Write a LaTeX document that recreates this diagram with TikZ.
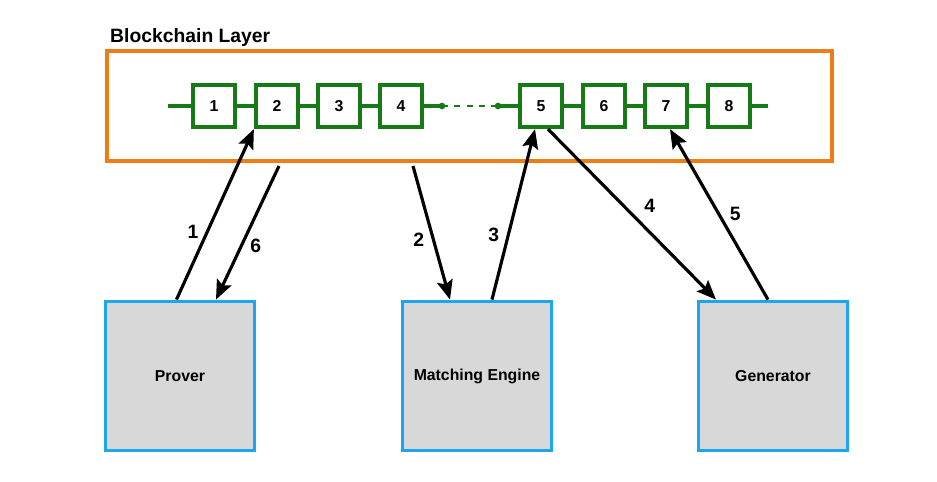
\documentclass[tikz,border=0pt]{standalone}
\usepackage{fontspec}
\setmainfont{Liberation Sans}
\usetikzlibrary{arrows.meta}

\definecolor{layerorange}{RGB}{238,125,22}
\definecolor{blockgreen}{RGB}{22,122,22}
\definecolor{actorblue}{RGB}{28,166,240}
\definecolor{actorgray}{RGB}{216,216,216}

\begin{document}
\begin{tikzpicture}[x=0.02cm, y=-0.02cm, every node/.style={font=\bfseries}]
\useasboundingbox (0,0) rectangle (937,481);

% Blockchain layer frame
\draw[layerorange, line width=2.2pt] (107,51) rectangle (832,161);
\node[anchor=west, font=\bfseries\fontsize{11}{13}\selectfont] (layer) at (104,37) {Blockchain Layer};

\tikzset{block/.style={draw=blockgreen, line width=2.4pt, fill=white, minimum size=0.84cm, inner sep=0pt, font=\bfseries\fontsize{9}{11}\selectfont},
         chain/.style={blockgreen, line width=2.4pt},
         actor/.style={draw=actorblue, fill=actorgray, line width=2.2pt, minimum size=2.98cm, inner sep=0pt, font=\bfseries\fontsize{9}{11}\selectfont},
         flow/.style={line width=1.8pt, -{Stealth[length=11pt, width=9pt, inset=2pt]}},
         step label/.style={font=\bfseries\fontsize{11}{13}\selectfont}}

% Chain lines
\coordinate (chainL) at (168,106);
\coordinate (chainR) at (768,106);
\coordinate (dotL) at (442,106);
\coordinate (dotR) at (498,106);
\draw[chain] (chainL) -- (dotL);
\draw[chain] (dotR) -- (chainR);
\draw[blockgreen, line width=1.3pt, dash pattern=on 3.5pt off 3.5pt] (dotL) -- (dotR);
\fill[blockgreen] (dotL) circle (1.9pt);
\fill[blockgreen] (dotR) circle (1.9pt);

% Blocks
\node[block] (b1) at (214,106) {1};
\node[block] (b2) at (277,106) {2};
\node[block] (b3) at (339,106) {3};
\node[block] (b4) at (401,106) {4};
\node[block] (b5) at (541,106) {5};
\node[block] (b6) at (604,106) {6};
\node[block] (b7) at (666,106) {7};
\node[block] (b8) at (729,106) {8};

% Actors
\node[actor] (prover) at (180,376) {Prover};
\node[actor] (engine) at (477,376) {Matching Engine};
\node[actor] (generator) at (773,376) {Generator};

% Free ends below the frame
\coordinate (out6) at (279,166);
\coordinate (out2) at (413,166);

% Flows
\draw[flow] ([xshift=-2pt]prover.north) -- (b2.south west) node[step label, pos=0.4, left=1pt] {1};
\draw[flow] (out6) -- ([xshift=0.72cm]prover.north) node[step label, pos=0.6, right=1pt] {6};
\draw[flow] (out2) -- ([xshift=-0.54cm]engine.north) node[step label, pos=0.55, left=1pt] {2};
\draw[flow] ([xshift=0.3cm]engine.north) -- ([xshift=-0.12cm]b5.south) node[step label, pos=0.38, left=1pt] {3};
\draw[flow] ([xshift=0.14cm]b5.south) -- ([xshift=-1.14cm]generator.north) node[step label, pos=0.53, above right=0pt] {4};
\draw[flow] ([xshift=-0.1cm]generator.north) -- ([xshift=0.08cm]b7.south) node[step label, pos=0.5, right=2pt] {5};
\end{tikzpicture}
\end{document}
